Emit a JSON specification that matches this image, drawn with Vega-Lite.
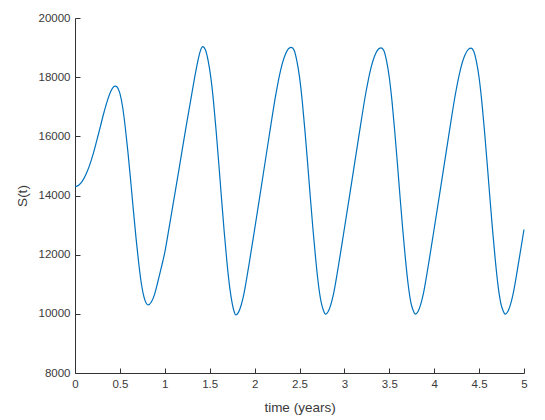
{
  "$schema": "https://vega.github.io/schema/vega-lite/v6.json",
  "width": 449,
  "height": 355,
  "autosize": {"type": "none"},
  "padding": {"left": 75, "top": 18, "right": 21, "bottom": 47},
  "background": "white",
  "config": {
    "view": {"stroke": null},
    "font": "Liberation Sans",
    "axis": {
      "grid": false,
      "domainColor": "#333333",
      "tickColor": "#333333",
      "labelColor": "#3a3a3a",
      "titleColor": "#3a3a3a",
      "labelFont": "Liberation Sans",
      "titleFont": "Liberation Sans",
      "labelFontSize": 11.5,
      "titleFontSize": 13.5,
      "titleFontWeight": "normal",
      "tickSize": -5,
      "domainWidth": 1,
      "tickWidth": 1
    }
  },
  "data": {
    "values": [
      {"t": 0, "S": 14300}, {"t": 0.04, "S": 14350}, {"t": 0.08, "S": 14480}, {"t": 0.12, "S": 14700},
      {"t": 0.16, "S": 15000}, {"t": 0.2, "S": 15380}, {"t": 0.24, "S": 15830}, {"t": 0.28, "S": 16300},
      {"t": 0.32, "S": 16780}, {"t": 0.36, "S": 17200}, {"t": 0.4, "S": 17530}, {"t": 0.43, "S": 17680},
      {"t": 0.45, "S": 17700}, {"t": 0.47, "S": 17660}, {"t": 0.5, "S": 17450}, {"t": 0.53, "S": 17000},
      {"t": 0.56, "S": 16300}, {"t": 0.59, "S": 15450}, {"t": 0.62, "S": 14500}, {"t": 0.65, "S": 13500},
      {"t": 0.68, "S": 12550}, {"t": 0.71, "S": 11700}, {"t": 0.74, "S": 11000}, {"t": 0.77, "S": 10550},
      {"t": 0.795, "S": 10350}, {"t": 0.815, "S": 10300},
      {"t": 0.85, "S": 10400}, {"t": 0.885, "S": 10650}, {"t": 0.92, "S": 11050}, {"t": 0.96, "S": 11550},
      {"t": 1.0, "S": 12080}, {"t": 1.05, "S": 12950}, {"t": 1.11, "S": 14020}, {"t": 1.17, "S": 15100},
      {"t": 1.23, "S": 16200}, {"t": 1.29, "S": 17250}, {"t": 1.33, "S": 17950}, {"t": 1.365, "S": 18500},
      {"t": 1.395, "S": 18880}, {"t": 1.422, "S": 19030},
      {"t": 1.452, "S": 18930}, {"t": 1.482, "S": 18570}, {"t": 1.512, "S": 18000}, {"t": 1.542, "S": 17190},
      {"t": 1.572, "S": 16170}, {"t": 1.602, "S": 15050}, {"t": 1.632, "S": 13880}, {"t": 1.662, "S": 12760},
      {"t": 1.692, "S": 11750}, {"t": 1.722, "S": 10910}, {"t": 1.752, "S": 10330}, {"t": 1.772, "S": 10080},
      {"t": 1.79, "S": 9960},
      {"t": 1.82, "S": 10050}, {"t": 1.85, "S": 10290}, {"t": 1.88, "S": 10660}, {"t": 1.91, "S": 11160},
      {"t": 1.94, "S": 11710}, {"t": 1.99, "S": 12660}, {"t": 2.06, "S": 14010}, {"t": 2.16, "S": 15970},
      {"t": 2.24, "S": 17480}, {"t": 2.29, "S": 18240}, {"t": 2.34, "S": 18750}, {"t": 2.38, "S": 18970},
      {"t": 2.41, "S": 19010},
      {"t": 2.44, "S": 18910}, {"t": 2.47, "S": 18560}, {"t": 2.5, "S": 18010}, {"t": 2.53, "S": 17210},
      {"t": 2.56, "S": 16210}, {"t": 2.59, "S": 15110}, {"t": 2.62, "S": 13960}, {"t": 2.65, "S": 12860},
      {"t": 2.68, "S": 11860}, {"t": 2.71, "S": 11010}, {"t": 2.74, "S": 10410}, {"t": 2.765, "S": 10130},
      {"t": 2.79, "S": 9990},
      {"t": 2.82, "S": 10080}, {"t": 2.85, "S": 10320}, {"t": 2.88, "S": 10690}, {"t": 2.91, "S": 11190},
      {"t": 2.94, "S": 11740}, {"t": 2.99, "S": 12690}, {"t": 3.06, "S": 14040}, {"t": 3.16, "S": 15990},
      {"t": 3.24, "S": 17490}, {"t": 3.29, "S": 18240}, {"t": 3.34, "S": 18740}, {"t": 3.38, "S": 18950},
      {"t": 3.41, "S": 18990},
      {"t": 3.44, "S": 18890}, {"t": 3.47, "S": 18540}, {"t": 3.5, "S": 17990}, {"t": 3.53, "S": 17190},
      {"t": 3.56, "S": 16190}, {"t": 3.59, "S": 15090}, {"t": 3.62, "S": 13940}, {"t": 3.65, "S": 12840},
      {"t": 3.68, "S": 11840}, {"t": 3.71, "S": 10990}, {"t": 3.74, "S": 10390}, {"t": 3.765, "S": 10120},
      {"t": 3.79, "S": 9990},
      {"t": 3.82, "S": 10080}, {"t": 3.85, "S": 10320}, {"t": 3.88, "S": 10690}, {"t": 3.91, "S": 11190},
      {"t": 3.94, "S": 11740}, {"t": 3.99, "S": 12690}, {"t": 4.06, "S": 14040}, {"t": 4.16, "S": 15990},
      {"t": 4.24, "S": 17490}, {"t": 4.29, "S": 18230}, {"t": 4.34, "S": 18730}, {"t": 4.38, "S": 18940},
      {"t": 4.41, "S": 18980},
      {"t": 4.44, "S": 18880}, {"t": 4.47, "S": 18530}, {"t": 4.5, "S": 17980}, {"t": 4.53, "S": 17180},
      {"t": 4.56, "S": 16180}, {"t": 4.59, "S": 15080}, {"t": 4.62, "S": 13930}, {"t": 4.65, "S": 12830},
      {"t": 4.68, "S": 11830}, {"t": 4.71, "S": 10980}, {"t": 4.74, "S": 10380}, {"t": 4.765, "S": 10120},
      {"t": 4.79, "S": 9990},
      {"t": 4.82, "S": 10080}, {"t": 4.85, "S": 10320}, {"t": 4.88, "S": 10690}, {"t": 4.91, "S": 11190},
      {"t": 4.94, "S": 11740}, {"t": 5.0, "S": 12850}
    ]
  },
  "mark": {"type": "line", "color": "#0072BD", "strokeWidth": 1.2, "interpolate": "monotone"},
  "encoding": {
    "x": {
      "field": "t", "type": "quantitative",
      "scale": {"domain": [0, 5], "nice": false, "zero": false},
      "axis": {"title": "time (years)", "values": [0, 0.5, 1, 1.5, 2, 2.5, 3, 3.5, 4, 4.5, 5], "format": "~g", "labelPadding": 10, "titlePadding": 11, "labelFlush": false}
    },
    "y": {
      "field": "S", "type": "quantitative",
      "scale": {"domain": [8000, 20000], "nice": false, "zero": false},
      "axis": {"title": "S(t)", "values": [8000, 10000, 12000, 14000, 16000, 18000, 20000], "format": "d", "labelPadding": 10, "titlePadding": 9}
    }
  }
}
